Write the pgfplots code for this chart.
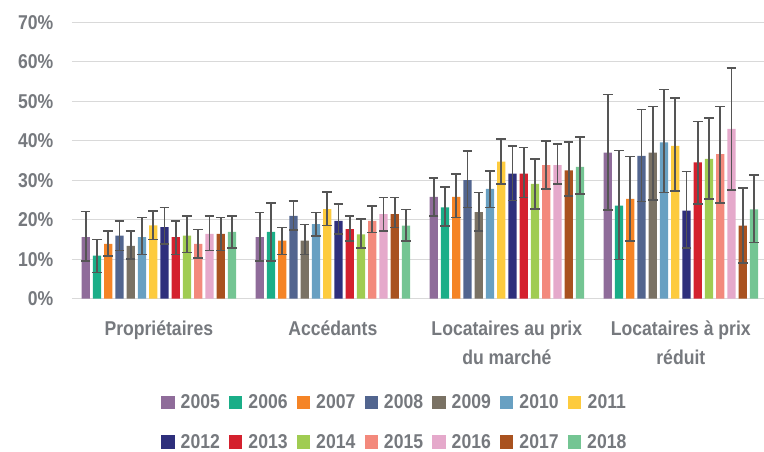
\documentclass[border=0pt]{standalone}
\usepackage{fontspec}
\usepackage{pgfplots}
\pgfplotsset{compat=1.18}
\newfontfamily\labfont[FakeStretch=0.88]{Liberation Sans}
\definecolor{txt}{RGB}{118,121,126}
\definecolor{gridc}{RGB}{217,217,217}
\definecolor{errc}{RGB}{85,85,85}
\definecolor{c2005}{RGB}{143,108,154}
\definecolor{c2006}{RGB}{26,174,136}
\definecolor{c2007}{RGB}{245,132,38}
\definecolor{c2008}{RGB}{82,101,143}
\definecolor{c2009}{RGB}{122,114,100}
\definecolor{c2010}{RGB}{104,160,194}
\definecolor{c2011}{RGB}{253,203,62}
\definecolor{c2012}{RGB}{46,47,124}
\definecolor{c2013}{RGB}{212,33,46}
\definecolor{c2014}{RGB}{160,204,82}
\definecolor{c2015}{RGB}{243,137,124}
\definecolor{c2016}{RGB}{229,169,203}
\definecolor{c2017}{RGB}{169,82,31}
\definecolor{c2018}{RGB}{116,197,147}
\newcommand\lf{\labfont\bfseries\fontsize{20}{28.5}\selectfont}
\begin{document}
\begin{tikzpicture}
\path[use as bounding box] (0,0) rectangle (764pt,452pt);
\begin{axis}[
  at={(71.8pt,153.3pt)}, anchor=south west,
  scale only axis, width=692.2pt, height=276.4pt,
  xmin=-0.5, xmax=3.478, ymin=0, ymax=70,
  ybar=2.95pt, bar width=8.3pt,
  axis line style={draw=none},
  ymajorgrids, grid style={color=gridc, line width=1.3pt},
  ytick={0,10,...,70},
  yticklabel={\pgfmathprintnumber{\tick}\%},
  xtick={0,1,2,3},
  xticklabels={{\vphantom{É}Propriétaires},{\vphantom{É}Accédants},{\vphantom{É}Locataires au prix\\du marché},{\vphantom{É}Locataires à prix\\réduit}},
  major tick length=0pt,
  tick label style={font=\lf, text=txt},
  /pgf/number format/assume math mode=true,
  xticklabel style={align=center, anchor=north, yshift=-16pt},
  yticklabel style={anchor=east, xshift=-15pt},
  error bars/y dir=both, error bars/y explicit,
  error bars/error bar style={line width=1.7pt, color=errc},
  error bars/error mark options={line width=1.7pt, color=errc, mark size=4.8pt, rotate=90},
  legend columns=7,
  legend style={draw=none, fill=none, at={(0.4668,-0.447)}, anchor=center,
    font=\lf, text=txt, row sep=24pt, nodes={inner ysep=0pt},
    /tikz/every even column/.append style={column sep=7.3pt}},
  legend image code/.code={\fill[#1] (0pt,-6.7pt) rectangle (13.3pt,6.6pt); \path (17.3pt,0pt);},
]
\addplot[fill=c2005, draw=none] coordinates {(0,15.6) += (0,6.5) -= (0,6.0) (1,15.6) += (0,6.2) -= (0,6.0) (2,25.8) += (0,4.8) -= (0,4.8) (3,37.0) += (0,14.7) -= (0,14.5)};
\addplot[fill=c2006, draw=none] coordinates {(0,10.9) += (0,4.1) -= (0,4.3) (1,16.9) += (0,7.4) -= (0,7.3) (2,23.1) += (0,5.1) -= (0,4.7) (3,23.6) += (0,13.9) -= (0,13.7)};
\addplot[fill=c2007, draw=none] coordinates {(0,13.9) += (0,3.3) -= (0,3.1) (1,14.7) += (0,3.3) -= (0,3.5) (2,25.8) += (0,5.8) -= (0,5.2) (3,25.3) += (0,10.7) -= (0,10.7)};
\addplot[fill=c2008, draw=none] coordinates {(0,16.0) += (0,3.7) -= (0,3.8) (1,21.0) += (0,3.7) -= (0,3.6) (2,30.0) += (0,7.4) -= (0,6.9) (3,36.2) += (0,11.7) -= (0,11.6)};
\addplot[fill=c2009, draw=none] coordinates {(0,13.4) += (0,3.8) -= (0,3.4) (1,14.7) += (0,4.1) -= (0,3.5) (2,21.9) += (0,5.0) -= (0,4.8) (3,37.0) += (0,11.7) -= (0,12.0)};
\addplot[fill=c2010, draw=none] coordinates {(0,15.6) += (0,5.0) -= (0,4.4) (1,18.9) += (0,2.9) -= (0,3.0) (2,27.8) += (0,4.5) -= (0,4.7) (3,39.6) += (0,13.4) -= (0,12.7)};
\addplot[fill=c2011, draw=none] coordinates {(0,18.6) += (0,3.6) -= (0,3.6) (1,22.7) += (0,4.4) -= (0,4.2) (2,34.7) += (0,5.7) -= (0,5.7) (3,38.7) += (0,12.1) -= (0,11.4)};
\addplot[fill=c2012, draw=none] coordinates {(0,18.1) += (0,5.0) -= (0,4.3) (1,19.7) += (0,4.2) -= (0,3.4) (2,31.7) += (0,7.0) -= (0,6.8) (3,22.3) += (0,9.9) -= (0,9.4)};
\addplot[fill=c2013, draw=none] coordinates {(0,15.6) += (0,4.1) -= (0,4.4) (1,17.6) += (0,3.3) -= (0,3.0) (2,31.7) += (0,6.6) -= (0,6.1) (3,34.5) += (0,10.4) -= (0,10.6)};
\addplot[fill=c2014, draw=none] coordinates {(0,16.0) += (0,4.9) -= (0,4.3) (1,16.3) += (0,3.8) -= (0,3.4) (2,29.1) += (0,6.2) -= (0,6.4) (3,35.4) += (0,10.4) -= (0,10.2)};
\addplot[fill=c2015, draw=none] coordinates {(0,13.9) += (0,3.6) -= (0,3.6) (1,19.7) += (0,3.8) -= (0,2.9) (2,33.8) += (0,6.2) -= (0,6.1) (3,36.6) += (0,12.1) -= (0,12.3)};
\addplot[fill=c2016, draw=none] coordinates {(0,16.4) += (0,4.5) -= (0,4.2) (1,21.4) += (0,4.2) -= (0,4.2) (2,33.8) += (0,5.3) -= (0,4.8) (3,43.0) += (0,15.5) -= (0,15.5)};
\addplot[fill=c2017, draw=none] coordinates {(0,16.4) += (0,4.2) -= (0,4.2) (1,21.4) += (0,4.2) -= (0,3.4) (2,32.5) += (0,7.1) -= (0,6.5) (3,18.5) += (0,9.6) -= (0,9.4)};
\addplot[fill=c2018, draw=none] coordinates {(0,16.9) += (0,4.0) -= (0,4.0) (1,18.5) += (0,4.1) -= (0,3.9) (2,33.4) += (0,7.5) -= (0,6.9) (3,22.6) += (0,8.8) -= (0,8.4)};
\legend{2005,2006,2007,2008,2009,2010,2011,2012,2013,2014,2015,2016,2017,2018}
\end{axis}
\end{tikzpicture}
\end{document}
